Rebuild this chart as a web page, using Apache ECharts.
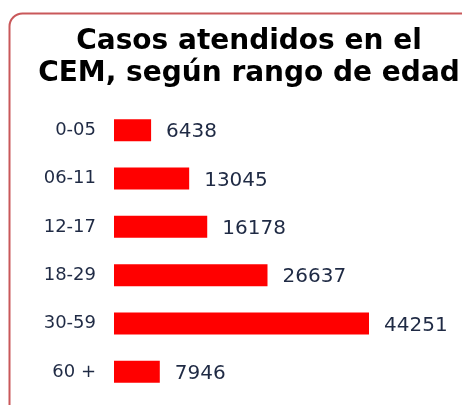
<!DOCTYPE html>
<html>
<head>
<meta charset="utf-8">
<script src="https://cdn.jsdelivr.net/npm/echarts@6/dist/echarts.min.js"></script>
<style>
  html, body { margin: 0; padding: 0; background: #fff; }
  #chart { width: 462px; height: 405px; }
</style>
</head>
<body>
<div id="chart"></div>
<script>
// rangos de edad, de arriba a abajo
const categories = ['0-05', '06-11', '12-17', '18-29', '30-59', '60 +'];
const casos = [6438, 13045, 16178, 26637, 44251, 7946];

const chart = echarts.init(document.getElementById('chart'));

const option = {
  backgroundColor: '#fff',
  animation: false,
  title: {
    text: 'Casos atendidos en el\nCEM, según rango de edad',
    left: 244,
    top: 21,
    textAlign: 'center',
    textStyle: {
      fontFamily: 'DejaVu Sans',
      fontWeight: 'bold',
      fontSize: 28,
      lineHeight: 32,
      color: '#000'
    }
  },
  graphic: [{
    type: 'rect',
    shape: { x: 9.5, y: 13.5, width: 480, height: 430, r: 13 },
    style: { fill: 'none', stroke: '#c9585a', lineWidth: 2 },
    silent: true
  }],
  grid: {
    left: 114,
    right: 93,
    top: 106,
    bottom: 9
  },
  xAxis: {
    type: 'value',
    min: 0,
    max: 44251,
    show: false
  },
  yAxis: {
    type: 'category',
    inverse: true,
    data: categories,
    axisLine: { show: false },
    axisTick: { show: false },
    axisLabel: {
      margin: 18,
      fontFamily: 'DejaVu Sans',
      fontSize: 18,
      color: '#1f2a44'
    }
  },
  series: [{
    type: 'bar',
    data: casos,
    barWidth: 22,
    itemStyle: { color: '#ff0000' },
    label: {
      show: true,
      position: 'right',
      distance: 15,
      offset: [0, 2],
      fontFamily: 'DejaVu Sans',
      fontSize: 20,
      color: '#1f2a44'
    }
  }]
};

chart.setOption(option);
</script>
</body>
</html>
